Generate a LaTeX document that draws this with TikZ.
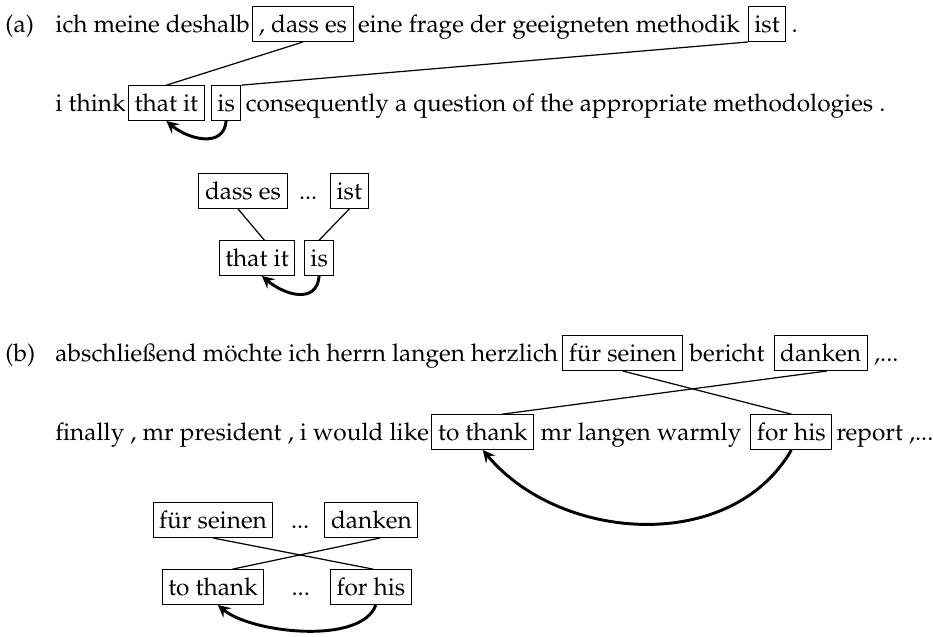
\documentclass[tikz,border=0pt]{standalone}
\usepackage[T1]{fontenc}
\usepackage{mathpazo}
\usetikzlibrary{positioning}

\tikzset{
  txt/.style={inner sep=0pt, anchor=base west},
  wbox/.style={draw, inner xsep=2.5pt, inner ysep=0pt, text height=10.4pt, text depth=3.9pt},
  link/.style={line width=0.5pt},
  move/.style={->, line width=1.2pt},
}

\begin{document}
\begin{tikzpicture}[>=stealth, x=0.41pt, y=-0.41pt, font=\fontsize{10}{12}\selectfont]
\useasboundingbox (0,0) rectangle (933,636);

% (a) german / english
\node[txt] (la) at (5,32) {(a)};
\node[txt] (a1) at (55,32) {ich meine deshalb};
\node[wbox, right=0.8pt of a1.base east, anchor=base west] (dasses) {, dass es};
\node[txt, right=1.6pt of dasses.base east, anchor=base west] (a2) {eine frage der geeigneten methodik};
\node[wbox, right=3pt of a2.base east, anchor=base west] (ist) {ist};
\node[txt, right=2pt of ist.base east, anchor=base west] (a3) {.};

\node[txt] (b1) at (55,111) {i think};
\node[wbox, right=0.8pt of b1.base east, anchor=base west] (thatit) {that it};
\node[wbox, right=2.5pt of thatit.base east, anchor=base west] (is) {is};
\node[txt, right=1.6pt of is.base east, anchor=base west] (b2) {consequently a question of the appropriate methodologies .};

\draw[link] (dasses.south) -- (thatit.north);
\draw[link] (ist.south west) -- (is.north east);
\draw[move] (is.south) to[out=-95, in=-40, looseness=1.2] (thatit.south);

% (a) pattern
\node[wbox, anchor=base] (sdasses) at (243,199) {dass es};
\node[txt, right=4.5pt of sdasses.base east, anchor=base west] (sdots) {...};
\node[wbox, right=5pt of sdots.base east, anchor=base west] (sist) {ist};
\node[wbox, anchor=base] (sthatit) at (257,266) {that it};
\node[wbox, right=3.5pt of sthatit.base east, anchor=base west] (sis) {is};

\draw[link] ([xshift=-2pt]sdasses.south) -- ([xshift=3pt]sthatit.north);
\draw[link] (sist.south) -- (sis.north);
\draw[move] (sis.south) to[out=-95, in=-40, looseness=1.3] ([xshift=2pt]sthatit.south);

% (b) german / english
\node[txt] (lb) at (5,361) {(b)};
\node[txt] (c1) at (55,361) {abschlie\ss end m\"ochte ich herrn langen herzlich};
\node[wbox, right=1.5pt of c1.base east, anchor=base west] (fuer) {f\"ur seinen};
\node[txt, right=2.5pt of fuer.base east, anchor=base west] (c2) {bericht};
\node[wbox, right=3.5pt of c2.base east, anchor=base west] (danken) {danken};
\node[txt, right=2.5pt of danken.base east, anchor=base west] (c3) {,...};

\node[txt] (d1) at (55,440) {finally , mr president , i would like};
\node[wbox, right=0.8pt of d1.base east, anchor=base west] (tothank) {to thank};
\node[txt, right=2.5pt of tothank.base east, anchor=base west] (d2) {mr langen warmly};
\node[wbox, right=3.5pt of d2.base east, anchor=base west] (forhis) {for his};
\node[txt, right=1.5pt of forhis.base east, anchor=base west] (d3) {report ,...};

\draw[link] (fuer.south) -- (forhis.north);
\draw[link] ([xshift=2.5pt]danken.south) -- ([xshift=8pt]tothank.north);
\draw[move] (forhis.south) to[out=-120, in=-50] (tothank.south);

% (b) pattern
\node[wbox, anchor=base] (sfuer) at (213,528) {f\"ur seinen};
\node[txt, right=7pt of sfuer.base east, anchor=base west] (sdots2) {...};
\node[wbox, right=6pt of sdots2.base east, anchor=base west] (sdanken) {danken};
\node[wbox, anchor=base] (stothank) at (213,595) {to thank};
\node[txt, right=11pt of stothank.base east, anchor=base west] (sdots3) {...};
\node[wbox, right=8pt of sdots3.base east, anchor=base west] (sforhis) {for his};

\draw[link] (sfuer.south) -- ([xshift=1pt]sforhis.north);
\draw[link] ([xshift=3.5pt]sdanken.south) -- ([xshift=8pt]stothank.north);
\draw[move] ([xshift=2pt]sforhis.south) to[out=-110, in=-40, looseness=0.7] ([xshift=2pt]stothank.south);

\end{tikzpicture}
\end{document}
